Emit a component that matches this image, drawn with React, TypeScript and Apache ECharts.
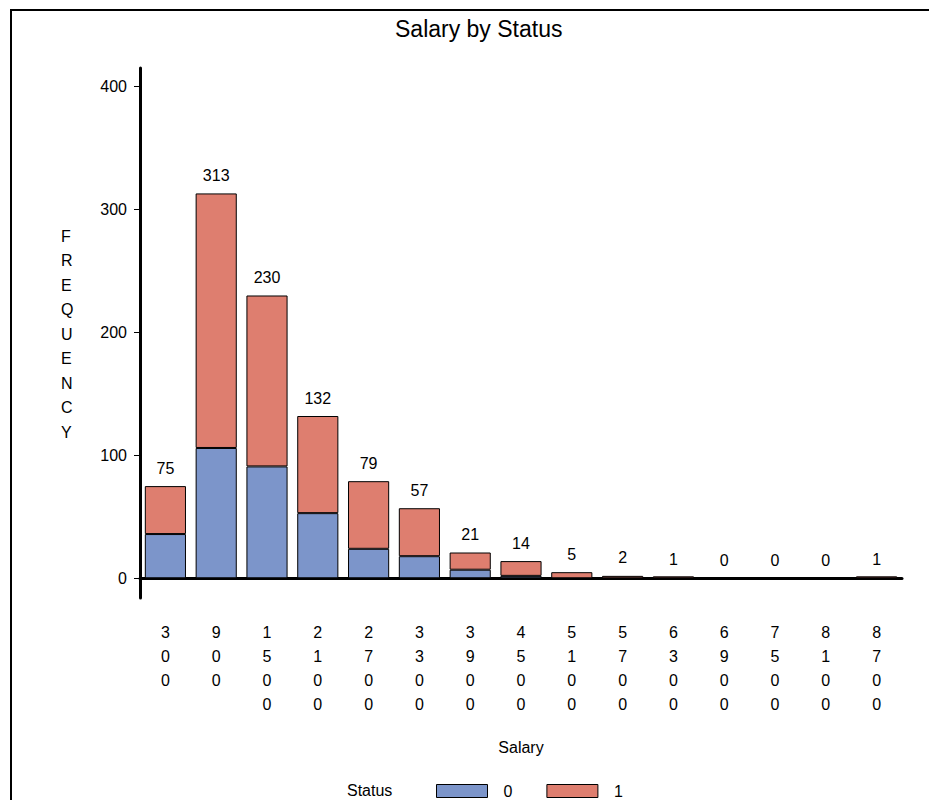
import React, { useEffect, useRef } from "react";
import * as echarts from "echarts";

const categories = ["300", "900", "1500", "2100", "2700", "3300", "3900", "4500", "5100", "5700", "6300", "6900", "7500", "8100", "8700"];
const status0 = [36, 106, 91, 53, 24, 18, 7, 2, null, null, null, null, null, null, null];
const status1 = [39, 207, 139, 79, 55, 39, 14, 12, 5, 2, 1, null, null, null, 1];
const totals = [75, 313, 230, 132, 79, 57, 21, 14, 5, 2, 1, 0, 0, 0, 1];
const yTicks = [0, 100, 200, 300, 400];

const FONT = "Liberation Sans, Arial, sans-serif";

export default function App() {
  const ref = useRef<HTMLDivElement>(null);
  useEffect(() => {
    if (!ref.current) return;
    const chart = echarts.init(ref.current, null, { renderer: "svg" });
    chart.setOption({
      animation: false,
      backgroundColor: "#fff",
      textStyle: { fontFamily: FONT, color: "#000" },
      title: {
        text: "Salary by Status",
        left: 390,
        top: 12,
        textStyle: { fontFamily: FONT, fontSize: 23, fontWeight: "normal", color: "#000" },
      },
      grid: { left: 140, right: 27, top: 68, bottom: 202 },
      legend: {
        left: 431,
        top: 778,
        itemWidth: 51,
        itemHeight: 13,
        itemGap: 34,
        icon: "rect",
        data: ["0", "1"],
        itemStyle: { borderColor: "#000", borderWidth: 1 },
        textStyle: { fontFamily: FONT, fontSize: 16, color: "#000", padding: [0, 0, 0, 11] },
      },
      xAxis: {
        type: "category",
        data: categories,
        name: "Salary",
        nameLocation: "middle",
        nameGap: 141,
        nameTextStyle: { fontFamily: FONT, fontSize: 16, color: "#000" },
        axisLine: { lineStyle: { color: "#000", width: 3 } },
        axisTick: { show: false },
        axisLabel: {
          fontFamily: FONT,
          fontSize: 16,
          color: "#000",
          lineHeight: 24,
          margin: 22,
          verticalAlign: "top",
          formatter: (v: string) => v.split("").join("\n"),
        },
      },
      yAxis: {
        type: "value",
        min: -16,
        max: 415,
        splitLine: { show: false },
        axisLine: { show: true, lineStyle: { color: "#000", width: 3 } },
        axisTick: { show: true, length: 6, customValues: yTicks, lineStyle: { color: "#000" } },
        axisLabel: {
          customValues: yTicks,
          fontFamily: FONT,
          fontSize: 16,
          color: "#000",
          margin: 13,
        },
      },
      series: [
        {
          name: "0",
          type: "bar",
          stack: "s",
          data: status0,
          barCategoryGap: "19%",
          itemStyle: { color: "#7C95CA", borderColor: "#000", borderWidth: 1 },
        },
        {
          name: "1",
          type: "bar",
          stack: "s",
          data: status1,
          barMinHeight: 2,
          itemStyle: { color: "#DE7E6F", borderColor: "#000", borderWidth: 1 },
        },
        {
          name: "total",
          type: "bar",
          stack: "s",
          data: totals.map(() => 0),
          itemStyle: { color: "transparent", borderWidth: 0 },
          label: {
            show: true,
            position: "top",
            distance: 10,
            fontFamily: FONT,
            fontSize: 16,
            color: "#000",
            formatter: (p: any) => String(totals[p.dataIndex]),
          },
        },
      ],
      graphic: [
        {
          type: "rect",
          shape: { x: 11, y: 10, width: 1000, height: 1000 },
          style: { fill: "none", stroke: "#000", lineWidth: 2 },
          silent: true,
        },
        {
          type: "text",
          left: 61,
          top: 224,
          style: {
            text: "FREQUENCY".split("").join("\n"),
            fontFamily: FONT,
            fontSize: 16,
            lineHeight: 24.5,
            fill: "#000",
            align: "center",
          },
        },
        {
          type: "text",
          left: 347,
          top: 782,
          style: { text: "Status", fontFamily: FONT, fontSize: 16, fill: "#000" },
        },
      ],
    });
    return () => chart.dispose();
  }, []);
  return (
    <div
      ref={ref}
      style={{ position: "fixed", left: 0, top: 0, width: 929, height: 800 }}
    />
  );
}
